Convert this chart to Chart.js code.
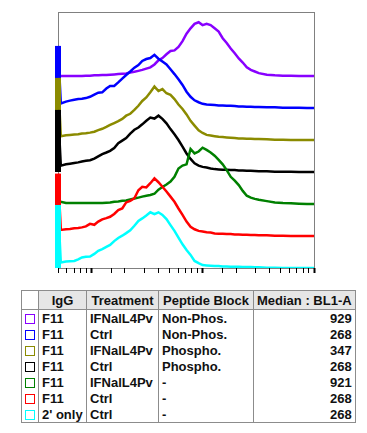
<!DOCTYPE html>
<html>
<head>
<meta charset="utf-8">
<script src="https://cdn.jsdelivr.net/npm/chart.js@4"></script>
<style>
  body { margin: 0; background: #fff; }
  .plot { position: absolute; left: 0; top: 0; width: 367px; height: 282px; z-index: 1; }
  .box { position: absolute; left: 58px; top: 12px; width: 255px; height: 255px; border: 1px solid #808080; z-index: 0; }
  table {
    position: absolute; left: 21px; top: 290px;
    border-collapse: collapse; table-layout: fixed;
    font: bold 13px "Liberation Sans", Arial, sans-serif; color: #111;
  }
  th, td { border-left: 1px solid #8c8c8c; border-right: 1px solid #8c8c8c; padding: 0 3px; white-space: nowrap; overflow: hidden; }
  th { height: 18px; background: #e6e6e6; border: 1px solid #8c8c8c; text-align: center; }
  th.blank { background: #fff; }
  td { height: 16px; }
  tr:last-child td { border-bottom: 1px solid #8c8c8c; }
  td.num { text-align: right; }
  .sw { display: inline-block; width: 8px; height: 8px; border: 1.5px solid; vertical-align: -1px; }
</style>
</head>
<body>
<div class="box"></div>
<div class="plot"><canvas id="histChart"></canvas></div>
<table id="legendTable">
  <colgroup><col style="width:15px"><col style="width:48px"><col style="width:72px"><col style="width:95px"><col style="width:101px"></colgroup>
  <thead><tr><th class="blank"></th><th>IgG</th><th>Treatment</th><th>Peptide Block</th><th>Median : BL1-A</th></tr></thead>
  <tbody></tbody>
</table>
<script>
// BL1-A channel bins (log axis)
const bins = [50, 53, 59, 64, 70, 76, 82, 89, 97, 106,
  115, 125, 136, 147, 160, 174, 189, 205, 223, 243,
  264, 286, 311, 338, 368, 400, 434, 472, 513, 557,
  605, 658, 715, 777, 844, 918, 997, 1083, 1177, 1279,
  1390, 1511, 1642, 1784, 1939, 2107, 2289, 2488, 2703, 2938,
  3192, 3769, 4451, 5255, 6206, 7328, 8653, 10000];

// normalised counts per sample
const purple = [0, 0, 0, 0, 0, 0, 0, 0.01, 0.01, 0.02,
  0.02, 0.03, 0.03, 0.04, 0.05, 0.06, 0.07, 0.08, 0.11, 0.13,
  0.16, 0.19, 0.23, 0.27, 0.36, 0.49, 0.56, 0.68, 0.78, 0.8,
  0.91, 1.09, 1.32, 1.49, 1.63, 1.68, 1.59, 1.63, 1.59, 1.49,
  1.39, 1.18, 1.03, 0.86, 0.71, 0.55, 0.42, 0.27, 0.19, 0.14,
  0.09, 0.04, 0.02, 0.01, 0.01, 0, 0, 0];
const blue = [1.94, 0.14, 0.2, 0.23, 0.26, 0.28, 0.29, 0.31, 0.35, 0.42,
  0.48, 0.49, 0.61, 0.69, 0.69, 0.8, 0.92, 1.03, 1.14, 1.26,
  1.34, 1.47, 1.53, 1.56, 1.66, 1.54, 1.45, 1.36, 1.21, 1.06,
  0.9, 0.72, 0.51, 0.35, 0.24, 0.18, 0.13, 0.11, 0.1, 0.09,
  0.08, 0.08, 0.07, 0.07, 0.06, 0.05, 0.05, 0.04, 0.04, 0.03,
  0.03, 0.02, 0.02, 0.01, 0.01, 0.01, 0, 0];
const olive = [1.94, 0.12, 0.15, 0.16, 0.17, 0.18, 0.2, 0.21, 0.23, 0.26,
  0.31, 0.35, 0.41, 0.47, 0.53, 0.59, 0.66, 0.76, 0.82, 0.94,
  1.07, 1.22, 1.33, 1.49, 1.67, 1.53, 1.59, 1.46, 1.41, 1.28,
  1.11, 0.97, 0.8, 0.6, 0.45, 0.3, 0.22, 0.16, 0.14, 0.12,
  0.1, 0.09, 0.08, 0.07, 0.06, 0.05, 0.05, 0.04, 0.04, 0.03,
  0.03, 0.02, 0.01, 0.01, 0, 0, 0, 0];
const black = [1.94, 0.2, 0.24, 0.26, 0.28, 0.3, 0.33, 0.35, 0.37, 0.42,
  0.49, 0.56, 0.61, 0.66, 0.75, 0.9, 0.98, 1.06, 1.2, 1.32,
  1.39, 1.49, 1.6, 1.7, 1.67, 1.76, 1.66, 1.52, 1.34, 1.18,
  1.0, 0.79, 0.58, 0.41, 0.27, 0.2, 0.16, 0.14, 0.11, 0.09,
  0.08, 0.07, 0.07, 0.06, 0.06, 0.05, 0.05, 0.04, 0.04, 0.03,
  0.02, 0.02, 0.01, 0.01, 0.01, 0, 0, 0];
const green = [0.03, 0.07, 0.03, 0.03, 0.03, 0.03, 0.03, 0.03, 0.03, 0.03,
  0.03, 0.03, 0.04, 0.05, 0.07, 0.08, 0.1, 0.11, 0.14, 0.17,
  0.2, 0.23, 0.26, 0.28, 0.32, 0.45, 0.53, 0.61, 0.7, 0.85,
  1.11, 1.2, 1.24, 1.72, 1.58, 1.64, 1.76, 1.69, 1.61, 1.51,
  1.38, 1.24, 1.06, 0.85, 0.73, 0.59, 0.41, 0.26, 0.2, 0.16,
  0.13, 0.09, 0.05, 0.03, 0.02, 0.01, 0, 0];
const red = [1.95, 0.19, 0.21, 0.22, 0.24, 0.25, 0.27, 0.3, 0.38, 0.35,
  0.45, 0.52, 0.56, 0.6, 0.69, 0.81, 0.86, 1.05, 1.1, 1.18,
  1.43, 1.54, 1.52, 1.65, 1.8, 1.68, 1.54, 1.39, 1.23, 1.07,
  0.86, 0.66, 0.45, 0.29, 0.21, 0.16, 0.14, 0.12, 0.11, 0.08,
  0.07, 0.07, 0.06, 0.06, 0.05, 0.05, 0.04, 0.04, 0.03, 0.03,
  0.02, 0.02, 0.01, 0.01, 0, 0, 0, 0];
const cyan = [1.97, 0.17, 0.2, 0.21, 0.22, 0.27, 0.33, 0.35, 0.36, 0.44,
  0.54, 0.59, 0.66, 0.72, 0.84, 0.94, 1.01, 1.09, 1.18, 1.32,
  1.47, 1.55, 1.64, 1.74, 1.68, 1.74, 1.66, 1.53, 1.34, 1.16,
  0.95, 0.74, 0.56, 0.41, 0.22, 0.15, 0.09, 0.08, 0.07, 0.06,
  0.06, 0.05, 0.05, 0.04, 0.04, 0.04, 0.03, 0.03, 0.03, 0.02,
  0.02, 0.01, 0.01, 0, 0, 0, 0, 0];

// table columns
const igg = ['F11', 'F11', 'F11', 'F11', 'F11', 'F11', "2' only"];
const treatment = ['IFNalL4Pv', 'Ctrl', 'IFNalL4Pv', 'Ctrl', 'IFNalL4Pv', 'Ctrl', 'Ctrl'];
const peptideBlock = ['Non-Phos.', 'Non-Phos.', 'Phospho.', 'Phospho.', '-', '-', '-'];
const medians = [929, 268, 347, 268, 921, 268, 268];

const series = [purple, blue, olive, black, green, red, cyan];
const colors = ['#8800ff', '#0000ff', '#8b8b00', '#000000', '#008000', '#ff0000', '#00ffff'];
const offsets = [6, 5, 4, 3, 2, 1, 0];

const datasets = [];
series.forEach((vals, i) => {
    datasets.push({
        label: igg[i] + ' ' + treatment[i] + ' ' + peptideBlock[i],
        data: vals.map((v, j) => ({ x: bins[j], y: v + offsets[i] })),
        borderColor: colors[i],
        borderWidth: 2.5,
        pointRadius: 0,
        tension: 0,
        fill: false,
        order: offsets[i]
    });
    // the pile-up in the first bin, drawn as a thick bar
    datasets.push({
        label: 'first bin',
        data: [{ x: bins[0], y: offsets[i] }, { x: bins[0], y: offsets[i] + vals[0] }],
        borderColor: colors[i],
        borderWidth: 6,
        borderCapStyle: 'butt',
        pointRadius: 0,
        clip: false,
        order: offsets[i]
    });
});

new Chart(document.getElementById('histChart'), {
    type: 'line',
    data: { datasets: datasets },
    options: {
        responsive: true,
        maintainAspectRatio: false,
        animation: false,
        devicePixelRatio: 1,
        layout: { padding: { left: 58, right: 53, top: 12, bottom: 9 } },
        plugins: { legend: { display: false }, tooltip: { enabled: false } },
        scales: {
            x: {
                type: 'logarithmic',
                min: 50,
                max: 10000,
                border: { display: false },
                grid: {
                    drawOnChartArea: false,
                    tickLength: 5,
                    tickColor: '#000',
                    tickWidth: ctx => (ctx.tick && ctx.tick.major) ? 2 : 1
                },
                ticks: { display: false, autoSkip: false }
            },
            y: { display: false, min: 0, max: 8 }
        }
    }
});

const tbody = document.querySelector('#legendTable tbody');
for (let i = 0; i < igg.length; i++) {
    const tr = document.createElement('tr');
    tr.innerHTML = '<td><span class="sw" style="border-color:' + colors[i] + '"></span></td>' +
        '<td>' + igg[i] + '</td><td>' + treatment[i] + '</td><td>' + peptideBlock[i] + '</td>' +
        '<td class="num">' + medians[i] + '</td>';
    tbody.appendChild(tr);
}
</script>
</body>
</html>
